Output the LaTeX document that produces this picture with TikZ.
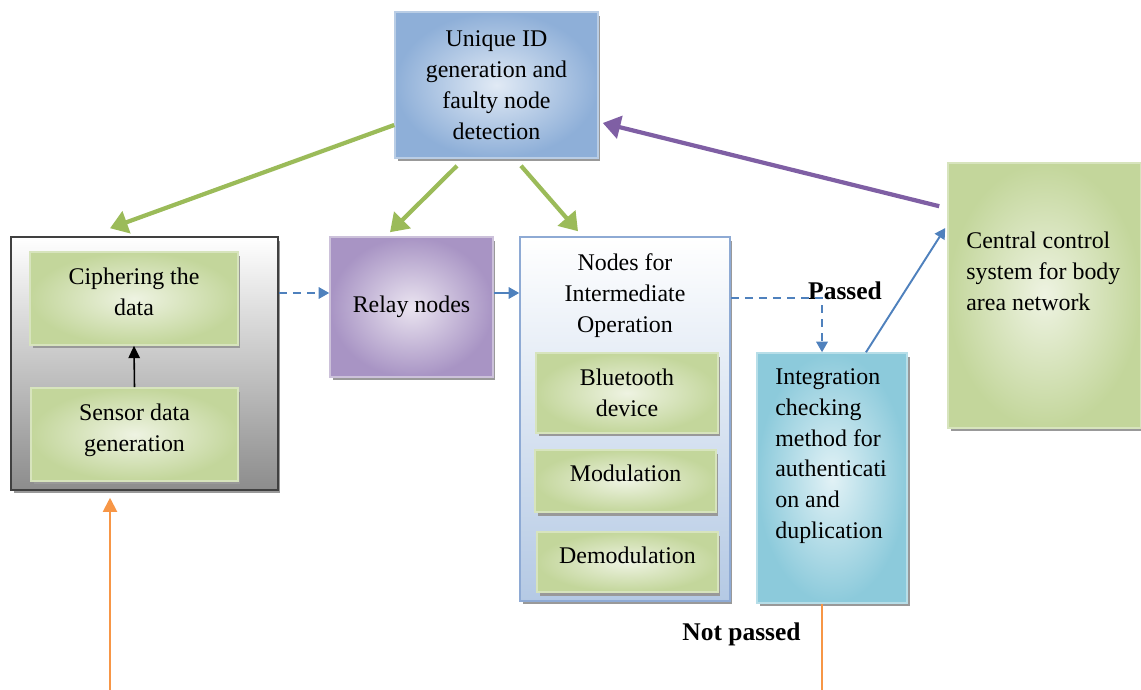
\documentclass[tikz,border=0pt]{standalone}
\usepackage{fontspec}
\setmainfont{Liberation Serif}
\usetikzlibrary{arrows.meta,shadows}
\definecolor{GreenDark}{HTML}{C3D69B}
\definecolor{GreenLight}{HTML}{EEF3E2}
\definecolor{GreenEdge}{HTML}{D7E4BD}
\definecolor{IdIn}{HTML}{E1EAF5}
\definecolor{IdOut}{HTML}{8EAFD8}
\definecolor{IdEdge}{HTML}{B9CDE5}
\definecolor{RelayIn}{HTML}{EAE4F0}
\definecolor{RelayOut}{HTML}{A894C4}
\definecolor{RelayEdge}{HTML}{CCC1DA}
\definecolor{CheckIn}{HTML}{E2F2F6}
\definecolor{CheckOut}{HTML}{8CCADB}
\definecolor{CheckEdge}{HTML}{B7DEE8}
\definecolor{InterBot}{HTML}{B4C9E4}
\definecolor{InterEdge}{HTML}{8EAAD4}
\definecolor{ArrowGreen}{HTML}{9BBB59}
\definecolor{ArrowPurple}{HTML}{7F5FA4}
\definecolor{ArrowBlue}{HTML}{4F81BD}
\definecolor{ArrowOrange}{HTML}{F79646}
\tikzset{
  box/.style={rectangle, draw, line width=0.9pt, align=center, inner sep=2pt,
    font=\fontsize{13.6}{17.6}\selectfont,
    drop shadow={shadow xshift=0.05cm, shadow yshift=-0.07cm, fill=black!40, opacity=1}},
  greenbox/.style={box, draw=GreenEdge, inner color=GreenLight, outer color=GreenDark},
  idbox/.style={box, draw=IdEdge, inner color=IdIn, outer color=IdOut},
  relaybox/.style={box, draw=RelayEdge, inner color=RelayIn, outer color=RelayOut},
  checkbox/.style={box, draw=CheckEdge, inner color=CheckIn, outer color=CheckOut},
  interbox/.style={box, draw=InterEdge, top color=white, bottom color=InterBot},
  outerbox/.style={box, draw=black!75, top color=white, bottom color=black!45},
  txt/.style={align=left, inner sep=0pt, font=\fontsize{13.6}{17.6}\selectfont},
  boldtxt/.style={inner sep=0pt, font=\fontsize{14.5}{17}\selectfont\bfseries},
  greenarrow/.style={ArrowGreen, line width=2.4pt, -{Triangle[length=10pt,width=13pt]}},
  purplearrow/.style={ArrowPurple, line width=2.4pt, -{Triangle[length=10pt,width=13pt]}},
  bluearrow/.style={ArrowBlue, line width=1.1pt, -{Triangle[length=6pt,width=6.5pt]}},
  bluedash/.style={bluearrow, dash pattern=on 4.5pt off 3.5pt},
  orangearrow/.style={ArrowOrange, line width=1.1pt, -{Triangle[length=8pt,width=8pt]}}
}
\begin{document}
\begin{tikzpicture}[x=0.02cm, y=-0.02cm]
\useasboundingbox (0,0) rectangle (1141,689);
\clip (0,0) rectangle (1141,689);

\node[idbox, minimum width=4.06cm, minimum height=2.92cm] (uid) at (496.5,85)
  {Unique ID\\generation and\\faulty node\\detection};

\node[outerbox, minimum width=5.34cm, minimum height=5.06cm] (outer) at (144.5,363.5) {};
\node[greenbox, minimum width=4.16cm, minimum height=1.86cm, text depth=0.28cm] (cipher) at (134,298.5)
  {Ciphering the\\data};
\node[greenbox, minimum width=4.14cm, minimum height=1.86cm, text depth=0.26cm] (sensor) at (134.5,434.5)
  {Sensor data\\generation};

\node[relaybox, minimum width=3.26cm, minimum height=2.8cm] (relay) at (411.5,307) {Relay nodes};

\node[interbox, minimum width=4.2cm, minimum height=7.28cm] (inter) at (625,419) {};
\node[txt, align=center] (inter text) at (625,296) {Nodes for\\Intermediate\\Operation};
\node[greenbox, minimum width=3.64cm, minimum height=1.6cm] (bt) at (627,393) {Bluetooth\\device};
\node[greenbox, minimum width=3.62cm, minimum height=1.24cm, text depth=0.32cm] (mod) at (625.5,481) {Modulation};
\node[greenbox, minimum width=3.62cm, minimum height=1.2cm, text depth=0.28cm] (demod) at (627.5,562) {Demodulation};

\node[checkbox, minimum width=3.0cm, minimum height=5.0cm] (integ) at (832,478) {};
\node[txt, anchor=north west] (integ text) at (775,368)
  {Integration\\checking\\method for\\authenticati\\on and\\duplication};

\node[greenbox, minimum width=3.86cm, minimum height=5.3cm] (central) at (1044.5,295.5) {};
\node[txt, anchor=north west] (central text) at (966,232)
  {Central control\\system for body\\area network};

\node[boldtxt] (passed) at (845,291) {Passed};
\node[boldtxt] (notpassed) at (741.5,634) {Not passed};

\draw[greenarrow] ([yshift=-0.8cm]uid.west) -- ([xshift=-0.69cm,yshift=0.16cm]outer.north);
\draw[greenarrow] ([xshift=-0.79cm,yshift=-0.14cm]uid.south) -- ([xshift=-0.43cm,yshift=0.08cm]relay.north);
\draw[greenarrow] ([xshift=0.49cm,yshift=-0.14cm]uid.south) -- ([xshift=-0.94cm,yshift=0.1cm]inter.north);
\draw[purplearrow] ([xshift=-0.16cm,yshift=-0.88cm]central.north west) -- ([xshift=0.08cm,yshift=-0.76cm]uid.east);

\coordinate (r in) at ([yshift=0.28cm]relay.west);
\coordinate (r out) at ([yshift=0.28cm]relay.east);
\coordinate (n out) at ([yshift=2.42cm]inter.east);
\coordinate (i in) at ([xshift=-0.2cm]integ.north);
\draw[bluedash] (outer.east |- r in) -- (r in);
\draw[bluearrow] (r out) -- (inter.west |- r out);
\draw[bluedash] (n out) -| (i in);
\draw[bluearrow] ([xshift=0.68cm]integ.north) -- ([xshift=-0.04cm,yshift=1.35cm]central.west);

\draw[black, line width=0.9pt, -{Triangle[length=7pt,width=6.5pt]}] (sensor.north) -- (cipher.south);

\draw[orangearrow] ([xshift=-0.2cm]integ.south) -- ++(0,100) -| ([xshift=-0.69cm,yshift=-0.14cm]outer.south);
\end{tikzpicture}
\end{document}
